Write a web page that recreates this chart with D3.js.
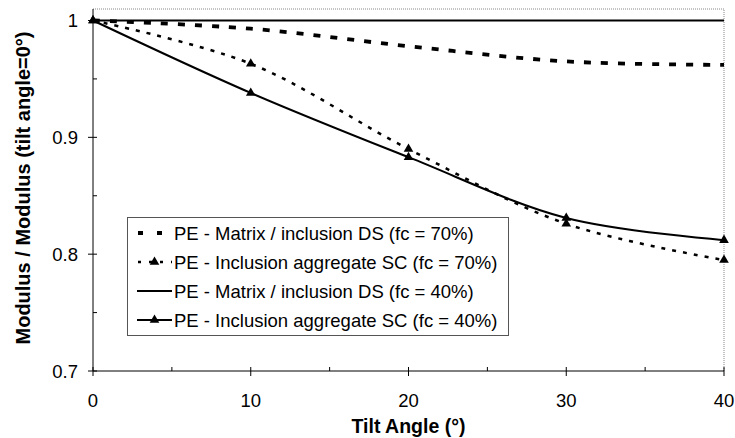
<!DOCTYPE html>
<html>
<head>
<meta charset="utf-8">
<script src="https://cdn.jsdelivr.net/npm/d3@7"></script>
<style>
  body { margin: 0; background: #fff; }
  text { font-family: "Liberation Sans", Arial, sans-serif; }
</style>
</head>
<body>
<div id="chart"></div>
<script>
// Data
const angles = [0, 10, 20, 30, 40];
const seriesNames = [
    "PE - Matrix / inclusion DS (fc = 70%)",
    "PE - Inclusion aggregate SC (fc = 70%)",
    "PE - Matrix / inclusion DS (fc = 40%)",
    "PE - Inclusion aggregate SC (fc = 40%)"
];
const ds70 = [1, 0.993, 0.978, 0.965, 0.962];
const sc70 = [1, 0.963, 0.890, 0.826, 0.795];
const ds40 = [1, 1, 1, 1, 1];
const sc40 = [1, 0.938, 0.883, 0.831, 0.812];
const xTicks = [0, 10, 20, 30, 40];
const yTicks = [0.7, 0.8, 0.9, 1];

const width = 735, height = 438;
const margin = { top: 9, right: 11, bottom: 67, left: 93 };

const svg = d3.select("#chart").append("svg")
    .attr("width", width)
    .attr("height", height);

const x = d3.scaleLinear().domain([0, 40]).range([margin.left, width - margin.right]);
const y = d3.scaleLinear().domain([0.7, 1]).range([371, 20.5]);

// plot area border (gray dotted top / right)
svg.append("path")
    .attr("d", `M${x(0)},${margin.top} H${x(40)} V${y(0.7)}`)
    .attr("fill", "none")
    .attr("stroke", "#888")
    .attr("stroke-width", 1)
    .attr("stroke-dasharray", "1,1");

// x axis
const xAxis = svg.append("g");
xAxis.append("line")
    .attr("x1", x(0)).attr("x2", x(40))
    .attr("y1", y(0.7)).attr("y2", y(0.7))
    .attr("stroke", "#000");
d3.range(0, 41, 5).forEach(v => {
    const major = v % 10 === 0;
    xAxis.append("line")
        .attr("x1", x(v)).attr("x2", x(v))
        .attr("y1", y(0.7) - 4).attr("y2", y(0.7) + (major ? 5 : 0))
        .attr("stroke", "#000");
});
xAxis.selectAll("text.tick")
    .data(xTicks)
    .enter()
    .append("text")
    .attr("x", d => x(d))
    .attr("y", 407)
    .attr("text-anchor", "middle")
    .style("font-size", "18.5px")
    .text(d => d);

// y axis
const yAxis = svg.append("g");
yAxis.append("line")
    .attr("x1", x(0)).attr("x2", x(0))
    .attr("y1", y(0.7)).attr("y2", margin.top)
    .attr("stroke", "#000");
[0.7, 0.75, 0.8, 0.85, 0.9, 0.95, 1].forEach((v, i) => {
    const major = i % 2 === 0;
    yAxis.append("line")
        .attr("x1", x(0) - (major ? 5 : 0)).attr("x2", x(0) + 4)
        .attr("y1", y(v)).attr("y2", y(v))
        .attr("stroke", "#000");
});
yAxis.selectAll("text.tick")
    .data(yTicks)
    .enter()
    .append("text")
    .attr("x", x(0) - 15)
    .attr("y", d => y(d) + 6.5)
    .attr("text-anchor", "end")
    .style("font-size", "18.5px")
    .text(d => d);

// axis titles
svg.append("text")
    .attr("x", (x(0) + x(40)) / 2)
    .attr("y", 433)
    .attr("text-anchor", "middle")
    .style("font-size", "19.5px")
    .style("font-weight", "bold")
    .text("Tilt Angle (°)");

svg.append("text")
    .attr("transform", "translate(29.5,188) rotate(-90)")
    .attr("text-anchor", "middle")
    .style("font-size", "20px")
    .style("font-weight", "bold")
    .text("Modulus / Modulus (tilt angle=0°)");

// series
const styles = [
    { values: ds70, dash: "7,10", width: 3.8, marker: false },
    { values: sc70, dash: "4,7", width: 2.5, marker: true },
    { values: ds40, dash: null, width: 2, marker: false },
    { values: sc40, dash: null, width: 2, marker: true }
];

const line = d3.line()
    .x(d => x(d[0]))
    .y(d => y(d[1]))
    .curve(d3.curveCatmullRom.alpha(0.5));

const tri = d3.symbol().type(d3.symbolTriangle).size(40);

styles.forEach(s => {
    const pts = angles.map((a, i) => [a, s.values[i]]);
    svg.append("path")
        .datum(pts)
        .attr("d", line)
        .attr("fill", "none")
        .attr("stroke", "#000")
        .attr("stroke-width", s.width)
        .attr("stroke-dasharray", s.dash);
    if (s.marker) {
        svg.selectAll(null)
            .data(pts)
            .enter()
            .append("path")
            .attr("d", tri)
            .attr("transform", d => `translate(${x(d[0])},${y(d[1])})`)
            .attr("fill", "#000");
    }
});

// legend
const legend = svg.append("g");
legend.append("rect")
    .attr("x", 127.5).attr("y", 217.5)
    .attr("width", 381).attr("height", 118)
    .attr("fill", "#fff")
    .attr("stroke", "#555")
    .attr("stroke-width", 1);

seriesNames.forEach((name, i) => {
    const cy = 233 + i * 29;
    const s = styles[i];
    legend.append("line")
        .attr("x1", 137).attr("x2", 172)
        .attr("y1", cy).attr("y2", cy)
        .attr("stroke", "#000")
        .attr("stroke-width", s.width)
        .attr("stroke-dasharray", s.dash ? (i === 0 ? "5,14" : "3,8") : null)
        .attr("stroke-dashoffset", -1);
    if (s.marker) {
        legend.append("path")
            .attr("d", tri)
            .attr("transform", `translate(154.5,${cy})`)
            .attr("fill", "#000");
    }
    legend.append("text")
        .attr("x", 174)
        .attr("y", cy + 6.5)
        .style("font-size", "18.5px")
        .text(name);
});
</script>
</body>
</html>
